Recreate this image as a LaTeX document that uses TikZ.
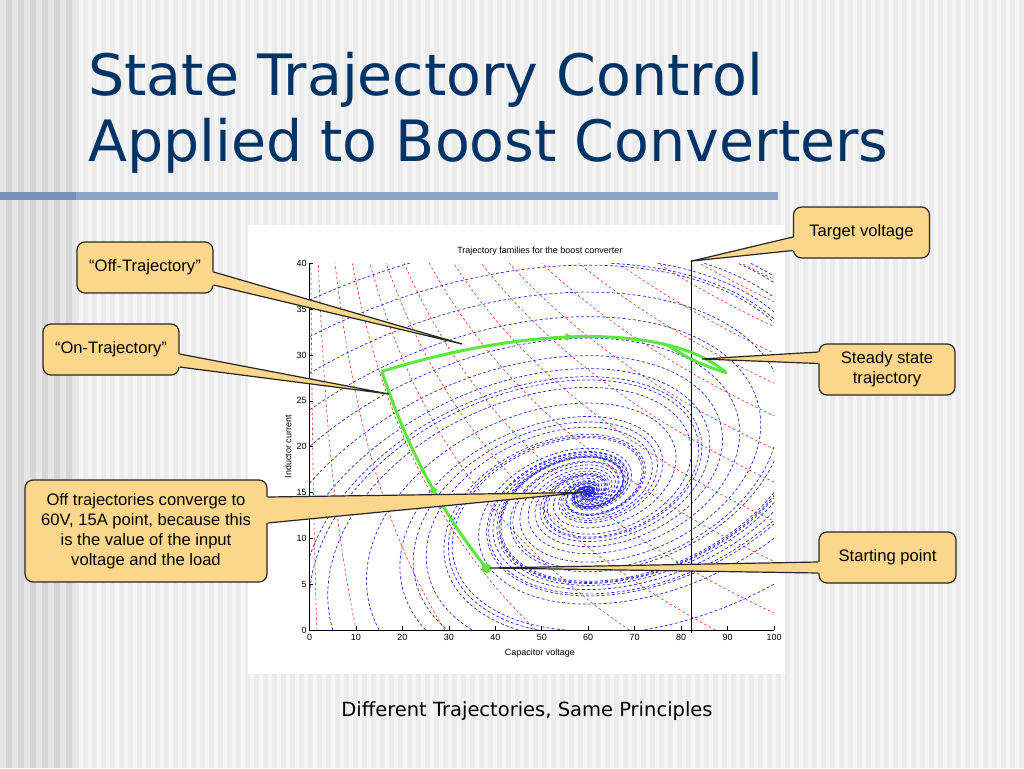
\documentclass[tikz,border=0pt]{standalone}
\usepackage{fontspec}
\setmainfont{Liberation Sans}
\newfontfamily\slidefont{DejaVu Sans}
\usetikzlibrary{arrows.meta,decorations.markings}

\definecolor{slidebg}{RGB}{235,235,235}
\definecolor{stripe}{RGB}{245,245,245}
\definecolor{bandbg}{RGB}{230,230,230}
\definecolor{banddark}{RGB}{214,214,214}
\definecolor{titleblue}{RGB}{0,51,102}
\definecolor{barblue}{RGB}{138,165,197}
\definecolor{bardark}{RGB}{118,147,182}
\definecolor{callfill}{RGB}{252,214,138}
\definecolor{trajgreen}{RGB}{90,232,60}
\definecolor{famblue}{RGB}{40,40,220}
\definecolor{famred}{RGB}{230,40,40}

\begin{document}
\begin{tikzpicture}[x=1pt,y=-1pt]
    \tikzset{callbox/.style = {shape=rectangle,draw=black!85,line width=1.2pt,fill=callfill,rounded corners=8pt,minimum width=136pt,minimum height=51pt,align=center,inner sep=2pt,font=\fontsize{16.6}{20}\selectfont}}
    \tikzset{pointer/.style = {draw=black!85,line width=1.2pt,line join=miter}}
    \tikzset{titletext/.style = {anchor=base west,inner sep=0pt,text=titleblue,font=\slidefont\fontsize{57}{66}\selectfont}}
    \tikzset{onfam/.style = {famred,line width=0.6pt,dash pattern=on 2.5pt off 2.5pt}}
    \tikzset{offfam/.style = {famblue,line width=0.7pt,dash pattern=on 3pt off 2.2pt}}
    \tikzset{traj/.style = {trajgreen,line width=3pt,line cap=round,line join=round}}
    \tikzset{trajarrow/.style = {postaction={decorate},decoration={markings,mark=at position #1 with {\arrow{Triangle[length=8pt,width=7pt]}}}}}
    \tikzset{startdot/.style = {circle,fill=trajgreen,inner sep=0pt,minimum size=10pt}}
    \tikzset{ticklab/.style = {font=\fontsize{9}{10}\selectfont,inner sep=0pt}}

    % slide background
    \useasboundingbox (0,0) rectangle (1024,768);
    \fill[slidebg] (0,0) rectangle (1024,768);
    \foreach \sx in {79,88,...,1020}
        \fill[stripe] (\sx,0) rectangle ++(4,768);
    \fill[bandbg] (0,0) rectangle (76,768);
    \foreach \sx in {6,18,...,66}
        \fill[banddark] (\sx,0) rectangle ++(6,768);
    \fill[barblue] (0,192) rectangle (778,200);
    \fill[bardark] (0,192) rectangle (76,200);

    % title
    \node[titletext] (title1) at (88,95) {State Trajectory Control};
    \node[titletext] (title2) at (88,161) {Applied to Boost Converters};

    % plot
    \fill[white] (248,225) rectangle (785,674);
    \coordinate (org) at (309.5,630);
    \begin{scope}[shift={(org)},x=4.645pt,y=9.167pt]
        \begin{scope}
            \clip (0,0) rectangle (100,40);
            \foreach \vt in {0.3,1.9,5.5,9.2,13,16.5,20.4,25.8,31,37,43,50,58,66.5,75,84,93}
                \draw[onfam] plot[domain=0:40,samples=50,variable=\cur] ({\vt*exp((40-\cur)/24)},\cur);
            \foreach \vs/\is in {0/4,0/8,0/12,0/16,0/20,0/24,0/28,0/32,0/36,5/0,15/0,25/0,35/0,45/0,55/0,100/0,100/5,100/10,100/15,100/20,65/40,75/40,85/40,95/40} {
                \pgfmathsetmacro\xa{\vs-60}
                \pgfmathsetmacro\ya{\is-15}
                \pgfmathsetmacro\xb{((\ya)-(\xa)/10)/0.3391}
                \pgfmathsetmacro\yb{(0.1*(\ya)-(\xa)/8)/0.3391}
                \draw[offfam] plot[domain=0:55,samples=350,variable=\tm]
                    ({60+exp(-0.1*\tm)*((\xa)*cos(deg(0.3391*\tm))+(\xb)*sin(deg(0.3391*\tm)))},
                     {15+exp(-0.1*\tm)*((\ya)*cos(deg(0.3391*\tm))+(\yb)*sin(deg(0.3391*\tm)))});
            }
        \end{scope}
        \draw[black,line width=0.6pt] (0,40) -- (0,0) -- (100,0);
        \foreach \tv in {0,10,...,100} {
            \draw[line width=0.6pt] (\tv,0) -- (\tv,0.4);
            \node[ticklab,anchor=north] (xt\tv) at (\tv,-0.45) {\tv};
        }
        \foreach \iv in {0,5,...,40} {
            \draw[line width=0.6pt] (0,\iv) -- (0.8,\iv);
            \node[ticklab,anchor=east] (yt\iv) at (-0.6,\iv) {\iv};
        }
        \node[ticklab] (ptitle) at (49.6,41.3) {Trajectory families for the boost converter};
        \node[ticklab] (xlab) at (49.6,-2.5) {Capacitor voltage};
        \node[ticklab,rotate=90] (ylab) at (-4.6,20) {Inductor current};

        % target voltage
        \draw[black,line width=1pt] (82.3,40.4) -- (82.3,-0.35);

        % on, off and steady state trajectories
        \draw[traj,trajarrow=0.45] plot[domain=38.1:15.6,samples=40] (\x,{94.1-24*ln(\x)});
        \draw[traj,trajarrow=0.55] plot[domain=0:4.75,samples=60,variable=\tm]
            ({60+exp(-0.125*\tm)*(-44.4*cos(deg(0.2657*\tm))+70.57*sin(deg(0.2657*\tm)))},
             {15+exp(-0.125*\tm)*(13.2*cos(deg(0.2657*\tm))+20.62*sin(deg(0.2657*\tm)))});
        \coordinate (sstip) at (89.69,28.07);
        \coordinate (ssmerge) at (77.1,31.08);
        \draw[traj] (sstip) to[bend left=8] (ssmerge);
        \node[startdot] (start) at (38.1,6.73) {};
    \end{scope}

    % callouts
    \node[callbox] (tvbox) at (861.5,232.5) {Target voltage};
    \coordinate (tvtip) at (692,261);
    \fill[callfill] ([xshift=2pt,yshift=-4.5pt]tvbox.west) -- (tvtip) -- ([xshift=2pt,yshift=-18pt]tvbox.west) -- cycle;
    \draw[pointer] ([yshift=-4.5pt]tvbox.west) -- (tvtip) -- ([yshift=-18pt]tvbox.west);

    \node[callbox] (offbox) at (145,267.5) {“Off-Trajectory”};
    \coordinate (offtip) at (462,344);
    \fill[callfill] ([xshift=-2pt,yshift=-4.5pt]offbox.east) -- (offtip) -- ([xshift=-2pt,yshift=-17.5pt]offbox.east) -- cycle;
    \draw[pointer] ([yshift=-4.5pt]offbox.east) -- (offtip) -- ([yshift=-17.5pt]offbox.east);

    \node[callbox] (onbox) at (111,349.5) {“On-Trajectory”};
    \coordinate (ontip) at (389,394);
    \fill[callfill] ([xshift=-2pt,yshift=-4.5pt]onbox.east) -- (ontip) -- ([xshift=-2pt,yshift=-17.5pt]onbox.east) -- cycle;
    \draw[pointer] ([yshift=-4.5pt]onbox.east) -- (ontip) -- ([yshift=-17.5pt]onbox.east);

    \node[callbox] (ssbox) at (887,369.5) {Steady state\\trajectory};
    \coordinate (sstipout) at (702,359);
    \fill[callfill] ([xshift=2pt,yshift=17.5pt]ssbox.west) -- (sstipout) -- ([xshift=2pt,yshift=6pt]ssbox.west) -- cycle;
    \draw[pointer] ([yshift=17.5pt]ssbox.west) -- (sstipout) -- ([yshift=6pt]ssbox.west);

    \node[callbox,minimum width=242pt,minimum height=102pt] (convbox) at (146,531)
        {Off trajectories converge to\\60V, 15A point, because this\\is the value of the input\\voltage and the load};
    \coordinate (convtip) at (582,492.5);
    \fill[callfill] ([xshift=-2pt,yshift=34pt]convbox.east) -- (convtip) -- ([xshift=-2pt,yshift=8pt]convbox.east) -- cycle;
    \draw[pointer] ([yshift=34pt]convbox.east) -- (convtip) -- ([yshift=8pt]convbox.east);

    \node[callbox,minimum width=137pt] (spbox) at (887.5,557.5) {Starting point};
    \coordinate (sptip) at (490,568);
    \fill[callfill] ([xshift=2pt,yshift=-4.5pt]spbox.west) -- (sptip) -- ([xshift=2pt,yshift=-15.5pt]spbox.west) -- cycle;
    \draw[pointer] ([yshift=-4.5pt]spbox.west) -- (sptip) -- ([yshift=-15.5pt]spbox.west);

    % caption
    \node[anchor=base,inner sep=0pt,font=\slidefont\fontsize{19.5}{22}\selectfont] (caption) at (527,716)
        {Different Trajectories, Same Principles};
\end{tikzpicture}
\end{document}
